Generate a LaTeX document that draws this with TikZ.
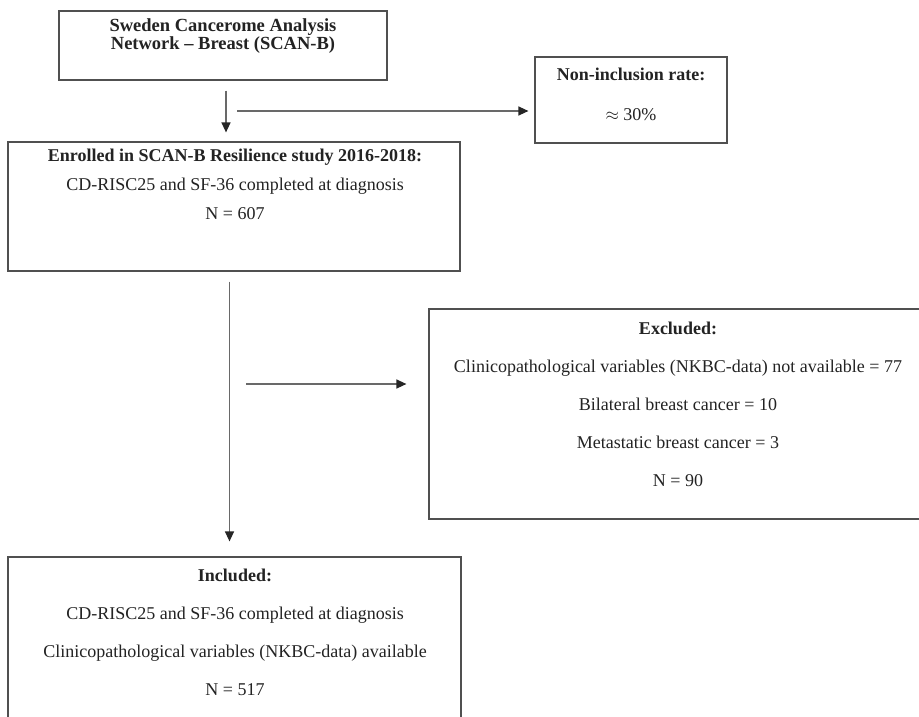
\documentclass[tikz,border=0pt]{standalone}
\usepackage{fontspec}
\setmainfont{Liberation Serif}
\usetikzlibrary{arrows.meta,positioning}
\definecolor{boxline}{RGB}{80,80,80}
\definecolor{arrline}{RGB}{105,105,105}
\definecolor{inktext}{RGB}{35,35,35}
\newcommand{\hd}[1]{{\bfseries\fontsize{18}{21}\selectfont #1}}

\begin{document}
\begin{tikzpicture}[x=1pt,y=-1pt,
  bx/.style={draw=boxline,line width=1.2pt,inner sep=0pt},
  tx/.style={align=center,text=inktext,inner sep=0pt,font=\fontsize{18}{21}\selectfont},
  f/.style={draw=arrline,line width=1.3pt,-{Triangle[length=10pt,width=9pt,color=black!85]}}]
\useasboundingbox (0,0) rectangle (919,717);
\clip (0,0) rectangle (919,717);
\fill[white] (0,0) rectangle (919,717);
% boxes
\node[bx,minimum width=328pt,minimum height=69pt] (scanb) at (223,45.5) {};
\node[bx,minimum width=192pt,minimum height=86pt] (nonincl) at (631,100) {};
\node[bx,minimum width=452pt,minimum height=129pt] (enrolled) at (234,206.5) {};
\node[bx,minimum width=498pt,minimum height=210pt] (excluded) at (678,414) {};
\node[bx,minimum width=453pt,minimum height=200pt] (included) at (234.5,657) {};
% texts
\node[tx,font=\bfseries\fontsize{18.5}{21}\selectfont] (scanbtxt) at (223,36) {Sweden Cancerome Analysis\\[-3pt]Network -- Breast (SCAN-B)};
\node[tx] (nonincltxt) at (631,94.5) {\hd{Non-inclusion rate:}\\[19pt]$\approx$ 30\%};
\node[tx] (enrolledtxt) at (235,184) {\hd{Enrolled in SCAN-B Resilience study 2016-2018:}\\[8pt]CD-RISC25 and SF-36 completed at diagnosis\\[8pt]N = 607};
\node[tx] (excludedtxt) at (678,404.5) {\hd{Excluded:}\\[17pt]Clinicopathological variables (NKBC-data) not available = 77\\[17pt]Bilateral breast cancer = 10\\[17pt]Metastatic breast cancer = 3\\[17pt]N = 90};
\node[tx] (includedtxt) at (235,632.5) {\hd{Included:}\\[17pt]CD-RISC25 and SF-36 completed at diagnosis\\[17pt]Clinicopathological variables (NKBC-data) available\\[17pt]N = 517};
% connectors
\coordinate (split1) at (237,111);
\coordinate (split2) at (246,384);
\draw[f,shorten <=10pt,shorten >=9pt] ([xshift=3pt]scanb.south) -- ([xshift=3pt]scanb.south |- enrolled.north);
\draw[f,shorten >=6pt] (split1) -- (split1 -| nonincl.west);
\draw[f,shorten <=10pt,shorten >=15pt] ([xshift=-4.5pt]enrolled.south) -- ([xshift=-4.5pt]enrolled.south |- included.north);
\draw[f,shorten >=22pt] (split2) -- (split2 -| excluded.west);
\end{tikzpicture}
\end{document}
